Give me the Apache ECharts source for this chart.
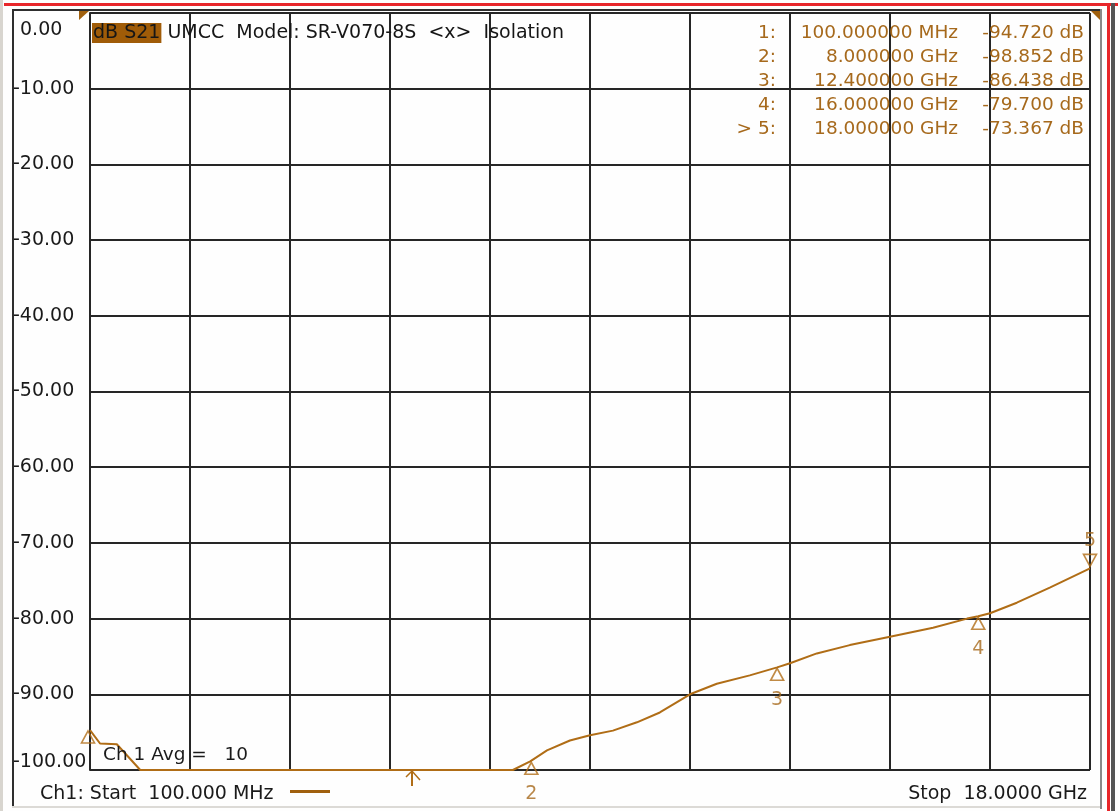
<!DOCTYPE html>
<html><head><meta charset="utf-8">
<script src="https://cdn.jsdelivr.net/npm/echarts@6/dist/echarts.min.js"></script>
<style>html,body{margin:0;padding:0;background:#fefefe;} #c{width:1118px;height:811px;}</style>
</head><body><div id="c"></div>
<script>
// ---- data ----
const freqGHz = [0.1, 0.28, 0.58, 1.0, 7.67, 7.98, 8.28, 8.69, 9.05, 9.46, 9.89, 10.30, 10.84, 11.32, 11.91, 12.4, 12.63, 13.11, 13.70, 14.42, 15.19, 15.80, 16.0, 16.21, 16.69, 17.28, 18.0];
const s21dB   = [-94.72, -96.5, -96.6, -100, -100, -98.85, -97.4, -96.1, -95.4, -94.8, -93.7, -92.4, -90.0, -88.6, -87.5, -86.44, -85.9, -84.6, -83.5, -82.4, -81.2, -80.0, -79.7, -79.3, -77.9, -75.9, -73.37];
const markerFreq = [0.1, 8, 12.4, 16, 18];
const markerDB   = [-94.72, -98.852, -86.438, -79.7, -73.367];
const markerNames = ['1:', '2:', '3:', '4:', '> 5:'];
const markerFreqText = ['100.000000 MHz', '8.000000 GHz', '12.400000 GHz', '16.000000 GHz', '18.000000 GHz'];
const markerValText  = ['-94.720 dB', '-98.852 dB', '-86.438 dB', '-79.700 dB', '-73.367 dB'];
const yMin = -100, yMax = 0, yStep = 10;
const xStartGHz = 0.1, xStopGHz = 18, xDivisions = 10;
const headerHighlight = 'dB S21';
const headerText = 'UMCC  Model: SR-V070-8S  <x>  Isolation';
const avgText = 'Ch 1 Avg =   10';
const startText = 'Ch1: Start  100.000 MHz';
const stopText = 'Stop  18.0000 GHz';

// ---- style ----
const TRACE = '#b06d16';
const MTEXT = '#a6691c';
const GRID = '#262626';
const FONT = 'DejaVu Sans';
const L = 90, T = 13, W = 1000, H = 757;
const f = s => s + 'px "' + FONT + '"';

const chart = echarts.init(document.getElementById('c'), null, {renderer: 'canvas'});

const markerData = markerFreq.map((fr, i) => {
  const up = i < 4;
  return {
    value: [fr, markerDB[i]],
    symbolRotate: up ? 0 : 180,
    symbolOffset: i === 0 ? [-2, 7] : (up ? [0, 7] : [0, -8]),
    label: {
      show: i > 0,
      formatter: String(i + 1),
      position: 'inside',
      offset: up ? [0, 26] : [0, -19],
      color: MTEXT, fontFamily: FONT, fontSize: 19
    }
  };
});

const graphics = [];
// window frame
graphics.push({type: 'rect', shape: {x: 0, y: 0, width: 3, height: 811}, style: {fill: '#d8d5cf'}, z: 100});
graphics.push({type: 'rect', shape: {x: 4, y: 3, width: 1114, height: 3}, style: {fill: '#e8262a'}, z: 100});
graphics.push({type: 'rect', shape: {x: 12, y: 9, width: 2, height: 797}, style: {fill: '#2e2e2e'}, z: 100});
graphics.push({type: 'rect', shape: {x: 12, y: 9, width: 1090, height: 2}, style: {fill: '#2e2e2e'}, z: 100});
graphics.push({type: 'rect', shape: {x: 12, y: 806, width: 1090, height: 2}, style: {fill: '#dcdad6'}, z: 100});
graphics.push({type: 'rect', shape: {x: 1100, y: 9, width: 2, height: 800}, style: {fill: '#8a8a8a'}, z: 100});
graphics.push({type: 'rect', shape: {x: 1107, y: 3, width: 3, height: 808}, style: {fill: '#e8262a'}, z: 100});
graphics.push({type: 'rect', shape: {x: 1111, y: 3, width: 4, height: 808}, style: {fill: '#555555'}, z: 100});
// scale wedges
graphics.push({type: 'polygon', shape: {points: [[79, 11], [89, 11], [79, 20]]}, style: {fill: '#a0600e'}, z: 100});
graphics.push({type: 'polygon', shape: {points: [[1091, 11], [1100, 11], [1100, 20]]}, style: {fill: '#a0600e'}, z: 100});
// header
graphics.push({type: 'text', x: 92, y: 33, z: 100, style: {
  text: '{hl|' + headerHighlight + '} ' + headerText, verticalAlign: 'middle',
  font: f(19), fill: '#161616',
  rich: {hl: {backgroundColor: '#a05c08', color: '#161616', font: f(19), padding: [1, 1, 0, 1]}}
}});
// marker table
markerNames.forEach((n, i) => {
  const y = 33 + 24 * i;
  graphics.push({type: 'text', x: 776, y, z: 100, style: {text: n, align: 'right', verticalAlign: 'middle', font: f(18.5), fill: MTEXT}});
  graphics.push({type: 'text', x: 958, y, z: 100, style: {text: markerFreqText[i], align: 'right', verticalAlign: 'middle', font: f(18.5), fill: MTEXT}});
  graphics.push({type: 'text', x: 1084, y, z: 100, style: {text: markerValText[i], align: 'right', verticalAlign: 'middle', font: f(18.5), fill: MTEXT}});
});
// avg text
graphics.push({type: 'text', x: 103, y: 755, z: 100, style: {text: avgText, verticalAlign: 'middle', font: f(18.5), fill: '#1a1a1a'}});
// bottom texts
graphics.push({type: 'text', x: 40, y: 794, z: 100, style: {text: startText, verticalAlign: 'middle', font: f(19), fill: '#1a1a1a'}});
graphics.push({type: 'rect', shape: {x: 290, y: 790, width: 40, height: 3}, style: {fill: '#a0600e'}, z: 100});
graphics.push({type: 'text', x: 1087, y: 794, z: 100, style: {text: stopText, align: 'right', verticalAlign: 'middle', font: f(19), fill: '#1a1a1a'}});
// stimulus arrow
graphics.push({type: 'polyline', shape: {points: [[412, 786], [412, 771]]}, style: {stroke: TRACE, lineWidth: 2}, z: 100});
graphics.push({type: 'polyline', shape: {points: [[406, 777], [412, 771], [420, 780]]}, style: {stroke: TRACE, lineWidth: 1.5, fill: null}, z: 100});

const labelFont = {fontFamily: FONT, fontSize: 19, color: '#1a1a1a'};

chart.setOption({
  animation: false,
  backgroundColor: '#fefefe',
  grid: {left: L, top: T, width: W, height: H, containLabel: false},
  xAxis: [
    {type: 'value', min: xStartGHz, max: xStopGHz, show: false},
    {type: 'value', min: 0, max: xDivisions, interval: 1, position: 'bottom',
     axisLine: {show: false}, axisTick: {show: false}, axisLabel: {show: false},
     splitLine: {show: true, lineStyle: {color: GRID, width: 2}}}
  ],
  yAxis: {
    type: 'value', min: yMin, max: yMax, interval: yStep,
    axisLine: {show: true, lineStyle: {color: GRID, width: 2}},
    axisTick: {show: false},
    splitLine: {show: true, lineStyle: {color: GRID, width: 2}},
    axisLabel: {
      align: 'left', margin: 77, ...labelFont,
      formatter: v => v === yMax ? '{t|' + v.toFixed(2) + '}' : (v === yMin ? '{b|' + v.toFixed(2) + '}' : v.toFixed(2)),
      rich: {
        t: {...labelFont, padding: [34, 0, 0, 7]},
        b: {...labelFont, padding: [0, 0, 16, 0]}
      }
    }
  },
  series: [
    {type: 'line', xAxisIndex: 0, data: freqGHz.map((fr, i) => [fr, s21dB[i]]), symbol: 'none',
     lineStyle: {color: TRACE, width: 2}, z: 5},
    {type: 'scatter', xAxisIndex: 0, data: markerData, symbol: 'triangle', symbolSize: [13, 12],
     itemStyle: {color: 'rgba(0,0,0,0)', borderColor: TRACE, borderWidth: 1.6}, clip: false, z: 6}
  ],
  graphic: graphics
});
</script>
</body></html>
